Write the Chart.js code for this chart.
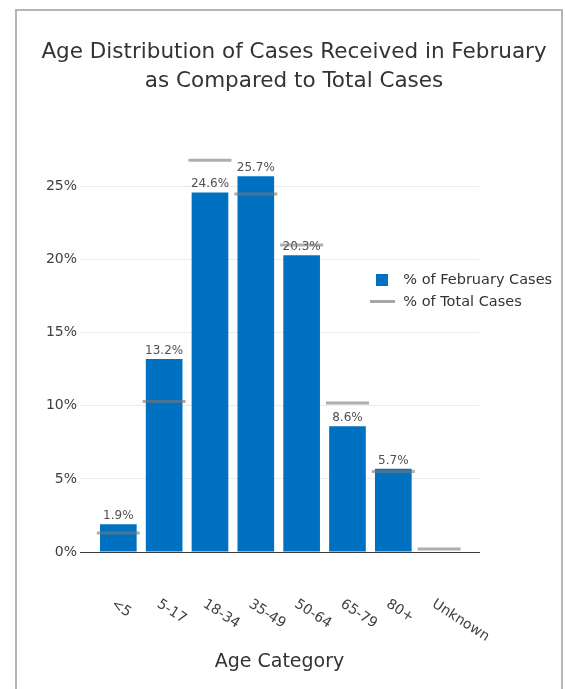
<!DOCTYPE html>
<html>
<head>
<meta charset="utf-8">
<script src="https://cdn.jsdelivr.net/npm/chart.js@4"></script>
<style>
  body { margin: 0; background: #fff; overflow: hidden; }
  #frame { position: absolute; left: 15px; top: 9px; width: 544px; height: 700px; border: 2px solid #b5b5b5; }
  #chart { position: absolute; left: 17px; top: 11px; }
</style>
</head>
<body>
<div id="frame"></div>
<canvas id="chart" width="554" height="678"></canvas>
<script>
const ageGroups = ['<5', '5-17', '18-34', '35-49', '50-64', '65-79', '80+', 'Unknown'];
const februaryPct = [1.9, 13.2, 24.6, 25.7, 20.3, 8.6, 5.7, 0];
const totalPct = [1.3, 10.3, 26.8, 24.5, 21.0, 10.2, 5.5, 0.2];
const yTicks = [0, 5, 10, 15, 20, 25];

const FONT = '"DejaVu Sans", sans-serif';
const BLUE = '#0070c0';
const GREY = 'rgba(120,120,120,0.6)';

Chart.defaults.font.family = FONT;
Chart.defaults.color = '#404040';

// small legend swatches (square and dash)
function swatch(w, h, color) {
  const c = document.createElement('canvas');
  c.width = w; c.height = h;
  const g = c.getContext('2d');
  g.fillStyle = color;
  g.fillRect(0, 0, w, h);
  return c;
}

// value labels above the bars
const barLabels = {
  id: 'barLabels',
  afterDatasetDraw(chart, args) {
    if (args.index !== 0) return;
    const ctx = chart.ctx;
    ctx.save();
    ctx.font = '12px ' + FONT;
    ctx.fillStyle = '#505050';
    ctx.textAlign = 'center';
    ctx.textBaseline = 'alphabetic';
    args.meta.data.forEach((bar, i) => {
      if (!februaryPct[i]) return;
      ctx.fillText(februaryPct[i].toFixed(1) + '%', bar.x, bar.y - 5);
    });
    ctx.restore();
  }
};

// slanted category labels under the axis
const xLabels = {
  id: 'xLabels',
  afterDraw(chart) {
    const {ctx, scales: {x}} = chart;
    ctx.save();
    ctx.font = '14px ' + FONT;
    ctx.fillStyle = '#404040';
    ctx.textAlign = 'left';
    ctx.textBaseline = 'top';
    ageGroups.forEach((label, i) => {
      ctx.save();
      ctx.translate(x.getPixelForValue(i) - 2, x.top + 45);
      ctx.rotate(33 * Math.PI / 180);
      ctx.fillText(label, 0, 0);
      ctx.restore();
    });
    ctx.restore();
  }
};

// legend sits inside the plot, right of the bars
const legendSpot = {
  id: 'legendSpot',
  afterLayout(chart) {
    const l = chart.legend, a = chart.chartArea;
    l.left = a.right - 118;
    l.width = 200;
    l.right = l.left + l.width;
    l.top = a.top + 116;
    l.height = 60;
    l.bottom = l.top + l.height;
  }
};

new Chart(document.getElementById('chart'), {
  type: 'bar',
  data: {
    datasets: [{
      label: '% of February Cases',
      data: februaryPct.map((v, i) => ({x: i, y: v})),
      backgroundColor: BLUE,
      borderWidth: 0,
      barPercentage: 1,
      categoryPercentage: 0.8,
      order: 1
    }, {
      type: 'line',
      label: '% of Total Cases',
      data: totalPct.map((v, i) => ({x: i, y: v})),
      showLine: false,
      pointStyle: 'line',
      pointRadius: 21.5,
      pointHoverRadius: 21.5,
      borderColor: GREY,
      pointBorderColor: GREY,
      borderWidth: 3,
      pointBorderWidth: 3,
      order: 0
    }]
  },
  options: {
    responsive: false,
    animation: false,
    layout: { padding: 0 },
    scales: {
      x: {
        type: 'linear',
        offset: false,
        min: -0.836,
        max: 7.87,
        ticks: { display: false, stepSize: 1, includeBounds: false },
        grid: { display: false },
        border: { display: true, color: '#404040', width: 1 },
        title: {
          display: true,
          text: 'Age Category',
          color: '#333',
          font: { size: 19 },
          padding: { top: 90.6, bottom: 15.6 }
        }
      },
      y: {
        min: 0,
        max: 27.5,
        afterBuildTicks: s => { s.ticks = yTicks.map(v => ({value: v})); },
        afterFit: s => { s.width = 63; },
        ticks: { callback: v => v + '%', font: { size: 14 }, color: '#404040', padding: 3 },
        grid: { color: '#ebebeb', drawTicks: false },
        border: { display: false }
      }
    },
    plugins: {
      tooltip: { enabled: false },
      title: {
        display: true,
        text: ['Age Distribution of Cases Received in February', 'as Compared to Total Cases'],
        color: '#333',
        font: { size: 21.5, weight: 'normal', lineHeight: 1.35 },
        padding: { top: 26.5, bottom: 54.5 }
      },
      legend: {
        position: 'right',
        align: 'start',
        maxWidth: 92,
        labels: {
          usePointStyle: true,
          pointStyleWidth: 28,
          boxHeight: 12,
          padding: 7,
          color: '#333',
          font: { size: 14.5 },
          generateLabels(chart) {
            const items = Chart.defaults.plugins.legend.labels.generateLabels(chart);
            items.sort((a, b) => a.datasetIndex - b.datasetIndex);
            items.forEach(it => {
              it.pointStyle = it.datasetIndex === 0 ? swatch(12, 12, BLUE) : swatch(25, 3, '#a6a6a6');
            });
            return items;
          }
        }
      }
    }
  },
  plugins: [barLabels, xLabels, legendSpot]
});
</script>
</body>
</html>
